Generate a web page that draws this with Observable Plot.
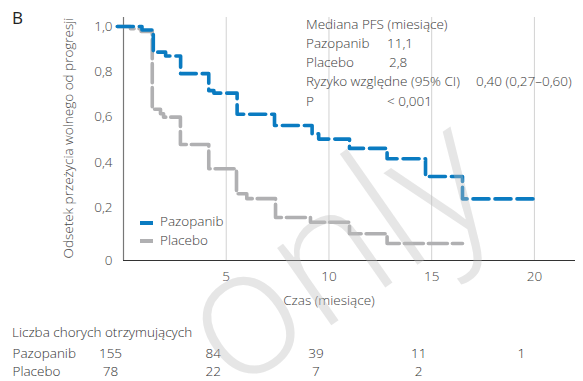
<!DOCTYPE html>
<html>
<head>
<meta charset="utf-8">
<script src="https://cdn.jsdelivr.net/npm/d3@7"></script>
<script src="https://cdn.jsdelivr.net/npm/@observablehq/plot@0.6"></script>
<style>
  html, body { margin: 0; padding: 0; background: #fff; }
  #wrap { position: relative; width: 583px; height: 381px; overflow: hidden; font-family: "Open Sans", sans-serif; color: #3a3a3a; font-weight: 300; }
  #wrap > svg { display: block; }
  .abs { position: absolute; white-space: nowrap; font-size: 13.5px; line-height: 1; }
  #wrap svg text { font-weight: 300; }
</style>
</head>
<body>
<div id="wrap"></div>
<script>
// ---- data ----
const seriesNames = ["Pazopanib", "Placebo"];
const seriesColors = ["#0a7bc1", "#b0b0b2"];
// Kaplan–Meier steps (time in months, proportion)
const pazT = [-0.3, 0.9, 1.45, 2.05, 2.78, 4.15, 4.4, 5.53, 7.35, 9.18, 9.5, 11.0, 12.83, 14.7, 16.5, 20.2];
const pazS = [1.0, 0.985, 0.887, 0.87, 0.792, 0.717, 0.706, 0.613, 0.563, 0.526, 0.503, 0.462, 0.416, 0.338, 0.239, 0.239];
const plaT = [-0.3, 0.34, 0.86, 1.4, 1.8, 1.95, 2.77, 4.15, 5.5, 6.0, 7.4, 9.1, 11.0, 12.83, 16.5];
const plaS = [1.0, 0.99, 0.978, 0.635, 0.615, 0.6, 0.479, 0.372, 0.262, 0.24, 0.157, 0.136, 0.085, 0.042, 0.042];
const xTicks = [0, 5, 10, 15, 20];
const yTicks = [0.2, 0.4, 0.6, 0.8, 1.0];
const xDomain = [0, 22];
const yDomain = [-0.033, 1.04];
const xLabel = "Czas (miesiące)";
const yLabel = "Odsetek przeżycia wolnego od progresji";
const panelLabel = "B";
const statsTitle = "Mediana PFS (miesiące)";
const statsRows = [["Pazopanib", "11,1"], ["Placebo", "2,8"], ["Ryzyko względne (95% CI)", "0,40 (0,27–0,60)"], ["P", "< 0,001"]];
const riskTitle = "Liczba chorych otrzymujących";
const riskTimes = [0, 5, 10, 15, 20];
const pazRisk = [155, 84, 39, 11, 1];
const plaRisk = [78, 22, 7, 2];
const watermark = "only";

// ---- build tables ----
const pazData = pazT.map((t, i) => ({t, s: pazS[i]}));
const plaData = plaT.map((t, i) => ({t, s: plaS[i]}));
const riskData = [
  ...pazRisk.map((n, i) => ({group: seriesNames[0], t: riskTimes[i], n})),
  ...plaRisk.map((n, i) => ({group: seriesNames[1], t: riskTimes[i], n}))
];
const fmt = d => d.toFixed(1).replace(".", ",");
const yZero = yDomain[0];

const wrap = document.getElementById("wrap");

const chart = Plot.plot({
  width: 583, height: 320,
  marginLeft: 123, marginRight: 8, marginTop: 17, marginBottom: 60,
  style: {fontFamily: "Open Sans, sans-serif", fontSize: "13.5px", color: "#444", background: "transparent", overflow: "visible"},
  x: {domain: xDomain},
  y: {domain: yDomain},
  marks: [
    Plot.ruleX(xTicks.filter(d => d > 0), {stroke: "#d2d2d2", strokeWidth: 1}),
    Plot.ruleX([xDomain[0]], {stroke: "#777", strokeWidth: 1.2}),
    Plot.ruleY([yZero], {stroke: "#333", strokeWidth: 1.2}),
    Plot.axisX({ticks: xTicks.filter(d => d > 0), tickSize: 0, tickPadding: 11, label: null, fontSize: 13.5}),
    Plot.axisY({ticks: [yZero, ...yTicks], tickSize: 0, tickPadding: 11, label: null, fontSize: 13.5,
      tickFormat: d => d === yZero ? "0" : fmt(d)}),
    Plot.line(plaData, {x: "t", y: "s", curve: "step-after", stroke: seriesColors[1], strokeWidth: 3.6, strokeDasharray: "19,5"}),
    Plot.line(pazData, {x: "t", y: "s", curve: "step-after", stroke: seriesColors[0], strokeWidth: 3.6, strokeDasharray: "16,6"}),
    Plot.text([xLabel], {x: (xTicks[0] + xTicks[xTicks.length - 1]) / 2, frameAnchor: "bottom", dy: 44, fontSize: 13.5, fill: "#444"}),
    Plot.text([yLabel], {frameAnchor: "left", textAnchor: "middle", rotate: -90, dx: -55, dy: -1, fontSize: 13.5, fill: "#444"})
  ]
});
chart.style.position = "absolute";
chart.style.left = "0px";
chart.style.top = "0px";
wrap.appendChild(chart);

const risk = Plot.plot({
  width: 583, height: 44,
  marginLeft: 123, marginRight: 8, marginTop: 0, marginBottom: 0,
  style: {fontFamily: "Open Sans, sans-serif", fontSize: "13.5px", color: "#333", background: "transparent", overflow: "visible"},
  x: {domain: xDomain, axis: null},
  y: {type: "point", domain: seriesNames, range: [13, 31], padding: 0},
  marks: [
    Plot.axisY({tickSize: 0, tickPadding: 0, textAnchor: "start", dx: -111, label: null, fontSize: 13.5}),
    Plot.text(riskData, {x: "t", y: "group", text: "n", dx: -13, fontSize: 13.5, fill: "#333"})
  ]
});
risk.style.position = "absolute";
risk.style.left = "0px";
risk.style.top = "340px";
wrap.appendChild(risk);

function addText(txt, left, cy, extra = {}) {
  const d = document.createElement("div");
  d.className = "abs";
  d.textContent = txt;
  d.style.left = left + "px";
  d.style.top = (cy - 7.5) + "px";
  Object.assign(d.style, extra);
  wrap.appendChild(d);
  return d;
}

addText(panelLabel, 12, 18, {fontSize: "17px", top: "9px", color: "#222", fontWeight: "400"});
addText(statsTitle, 306, 25);
const statsX = [387, 389, 476, 387];
statsRows.forEach((r, i) => {
  const cy = 44.5 + i * 19.2;
  addText(r[0], 306, cy);
  addText(r[1], statsX[i], cy);
});
addText(riskTitle, 12, 333, {color: "#333"});

// legend
seriesNames.forEach((name, i) => {
  const cy = 222.7 + i * 18.3;
  const sw = document.createElement("div");
  sw.style.cssText = `position:absolute;left:140px;top:${cy - 2}px;width:13px;height:4px;background:${seriesColors[i]}`;
  wrap.appendChild(sw);
  addText(name, 160, cy);
});

// watermark overlay
const ns = "http://www.w3.org/2000/svg";
const wm = document.createElementNS(ns, "svg");
wm.setAttribute("width", 583); wm.setAttribute("height", 381);
wm.style.cssText = "position:absolute;left:0;top:0;pointer-events:none";
const wt = document.createElementNS(ns, "text");
wt.setAttribute("x", 233); wt.setAttribute("y", 394);
wt.setAttribute("transform", "rotate(-35 233 394)");
wt.setAttribute("font-family", "Open Sans, sans-serif");
wt.setAttribute("font-size", 178);
wt.setAttribute("fill", "rgba(190,190,190,0.38)");
wt.textContent = watermark;
wm.appendChild(wt);
wrap.appendChild(wm);
</script>
</body>
</html>
